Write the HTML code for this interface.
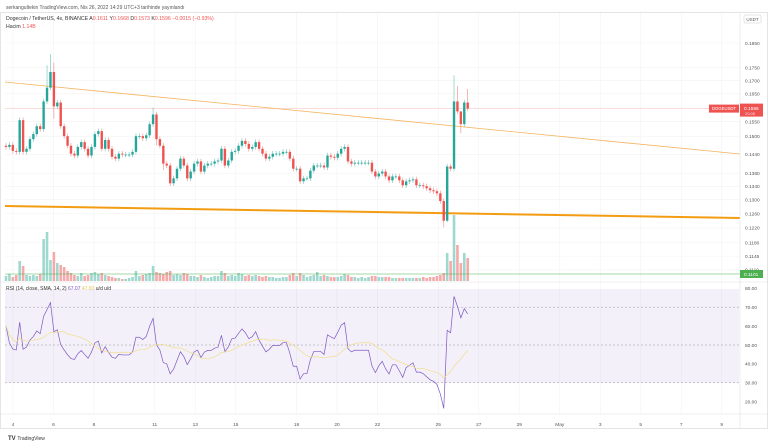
<!DOCTYPE html>
<html><head><meta charset="utf-8"><style>
html,body{margin:0;padding:0;background:#fff;width:768px;height:445px;overflow:hidden}
svg{display:block;font-family:"Liberation Sans",sans-serif}
</style></head><body>
<svg id="c" width="768" height="445" viewBox="0 0 768 445">
<text x="6" y="9" font-size="5" fill="#555">serkangultekin TradingView.com, Nis 26, 2022 14:29 UTC+3 tarihinde yayınlandı</text>
<rect x="0.5" y="12.5" width="767" height="416" fill="none" stroke="#e4e4e4"/>
<g id="grid"></g>
<rect x="5" y="289" width="734" height="94" fill="#7e57c2" fill-opacity="0.09"/>
<g id="main"></g>
<text x="6" y="20" font-size="5.2" fill="#333">Dogecoin / TetherUS, 4s, BINANCE  <tspan fill="#333">A</tspan><tspan fill="#ef5350">0.1611</tspan> Y<tspan fill="#ef5350">0.1668</tspan> D<tspan fill="#ef5350">0.1573</tspan> K<tspan fill="#ef5350">0.1596</tspan> <tspan fill="#ef5350">−0.0015 (−0.93%)</tspan></text>
<text x="6" y="28" font-size="5.2" fill="#333">Hacim <tspan fill="#ef5350">1.14B</tspan></text>
<text x="6" y="290" font-size="5" fill="#333">RSI (14, close, SMA, 14, 2) <tspan fill="#7e57c2">67.07</tspan> <tspan fill="#e8c75a">47.83</tspan> u/d u/d</text>
<rect x="744" y="15" width="17" height="8" rx="1" fill="#fff" stroke="#ccc" stroke-width="0.5"/>
<text x="752.5" y="21" font-size="4.5" fill="#555" text-anchor="middle">USDT</text>
<text x="8" y="440" font-size="6" fill="#333" font-weight="bold">TV <tspan font-weight="normal" font-size="5">TradingView</tspan></text>
</svg>
<script>
const closes=[0.1464,0.1471,0.1451,0.1448,0.1555,0.1448,0.1458,0.1490,0.1507,0.1534,0.1524,0.1622,0.1673,0.1733,0.1604,0.1618,0.1534,0.1500,0.1468,0.1442,0.1436,0.1464,0.1480,0.1458,0.1436,0.1464,0.1507,0.1517,0.1458,0.1487,0.1458,0.1432,0.1426,0.1442,0.1439,0.1439,0.1439,0.1448,0.1500,0.1500,0.1493,0.1503,0.1541,0.1575,0.1490,0.1468,0.1410,0.1404,0.1349,0.1364,0.1394,0.1426,0.1404,0.1364,0.1385,0.1410,0.1417,0.1385,0.1404,0.1410,0.1410,0.1417,0.1420,0.1458,0.1404,0.1420,0.1448,0.1451,0.1468,0.1484,0.1474,0.1458,0.1464,0.1480,0.1458,0.1442,0.1426,0.1432,0.1442,0.1442,0.1442,0.1448,0.1448,0.1426,0.1394,0.1394,0.1355,0.1364,0.1364,0.1388,0.1404,0.1404,0.1404,0.1398,0.1436,0.1432,0.1429,0.1442,0.1458,0.1464,0.1417,0.1410,0.1413,0.1413,0.1413,0.1413,0.1413,0.1385,0.1370,0.1379,0.1385,0.1370,0.1358,0.1370,0.1370,0.1358,0.1343,0.1355,0.1358,0.1361,0.1343,0.1343,0.1340,0.1334,0.1328,0.1325,0.1319,0.1296,0.1240,0.1401,0.1394,0.1622,0.1586,0.1541,0.1618,0.1596];
const volumes=[5,7,4,6,20,15,6,5,6,5,7,42,49,21,29,18,16,14,10,8,6,5,8,5,6,8,9,7,8,6,5,4,3,3,2,2,3,4,10,5,6,7,8,15,9,8,7,9,10,6,7,6,8,7,5,5,4,6,4,3,4,5,5,10,8,5,6,5,8,7,5,6,5,6,5,4,5,4,4,3,3,4,4,6,8,5,8,6,4,5,6,9,5,6,5,4,4,4,5,7,6,4,4,3,4,3,4,5,5,4,4,4,4,3,3,3,3,3,3,3,3,3,4,3,4,4,5,6,8,28,20,66,36,18,28,23];
const peakHighs={12:0.1760,13:0.1805,14:0.1770,43:0.1600,131:0.1720,132:0.1680,133:0.1575,135:0.1668};
const deepLows={128:0.1222,129:0.1236,14:0.1560,44:0.1470,46:0.1390,48:0.1340,133:0.1510};
const priceTicks=[0.1850,0.1750,0.1700,0.1650,0.1550,0.1500,0.1440,0.1380,0.1340,0.1300,0.1260,0.1220,0.1180,0.1145,0.1110];
const rsiTicks=[80,70,60,50,40,30,20];
const dayLabels=["4","6","8","11","13","15","18","20","22","25","27","29","May","3","5","7","9"];
const dayPos=[4,6,8,11,13,15,18,20,22,25,27,29,31,33,35,37,39];
const lastPrice=0.1596, supportLevel=0.1101;

const NS="http://www.w3.org/2000/svg";
function mk(parent,tag,attrs){const e=document.createElementNS(NS,tag);for(const k in attrs)e.setAttribute(k,attrs[k]);parent.appendChild(e);return e;}
const yP=p=>43+(Math.log(0.185)-Math.log(p))/0.511*227;
const xI=i=>6+i*3.42;
const xDay=d=>13+(d-4)*20.25;
const yR=v=>345-(v-50)*1.89;
const yV=v=>281-v;
const G=document.getElementById('grid'), M=document.getElementById('main'), S=document.getElementById('c');

priceTicks.forEach(t=>{
  const l=mk(G,'line',{x1:5,x2:740,y1:yP(t),y2:yP(t),stroke:'#f2f2f2','stroke-width':0.6});
  
  
  const tx=mk(S,'text',{x:745,y:yP(t)+1.8,'font-size':4.8,fill:'#555'});tx.textContent=t.toFixed(4);
  
  
});
dayPos.forEach((d,k)=>{
  const l=mk(G,'line',{x1:xDay(d),x2:xDay(d),y1:13,y2:414,stroke:'#f2f2f2','stroke-width':0.6});
  
  
  const tx=mk(S,'text',{x:xDay(d),y:426,'font-size':4.8,fill:'#555','text-anchor':'middle'});tx.textContent=dayLabels[k];
  
  
});
rsiTicks.forEach(t=>{
  const tx=mk(S,'text',{x:745,y:yR(t)+1.8,'font-size':4.8,fill:'#555'});tx.textContent=t.toFixed(2);
  
  
});
[70,50,30].forEach(t=>{
  const l=mk(M,'line',{x1:5,x2:740,y1:yR(t),y2:yR(t),stroke:'#9a9a9a','stroke-width':0.5,'stroke-dasharray':'2,2'});
  
  
});
// axes separators
[[740,13,740,428],[0,282,768,282],[0,414,768,414]].forEach(a=>{
  const l=mk(S,'line',{x1:a[0],y1:a[1],x2:a[2],y2:a[3],stroke:'#e0e0e0','stroke-width':0.6});
  
  
});
// volume bars
volumes.forEach((v,i)=>{
  const o=i?closes[i-1]:closes[0];const up=closes[i]>=o;
  const r=mk(M,'rect',{x:xI(i)-1.3,y:yV(v),width:2.6,height:v,fill:up?'#9fd8cf':'#f5a9a9'});
  
  
});
// level line
const sl=mk(M,'line',{x1:5,x2:740,y1:274,y2:274,stroke:'#4caf50','stroke-width':0.6});


const lp=mk(M,'line',{x1:5,x2:740,y1:yP(lastPrice),y2:yP(lastPrice),stroke:'#f7c6c6','stroke-width':0.6});


// trend lines
const t1=mk(M,'line',{x1:5,y1:82,x2:740,y2:154,stroke:'#f5b461','stroke-width':0.8});


const t2=mk(M,'line',{x1:5,y1:206,x2:740,y2:218,stroke:'#f39c12','stroke-width':2});


// candles
closes.forEach((c,i)=>{
  const o=i?closes[i-1]:0.1468;const up=c>=o;const col=up?'#26a69a':'#ef5350';
  const hi=peakHighs[i]||Math.max(o,c)*1.006, lo=deepLows[i]||Math.min(o,c)*0.994;
  const g=mk(M,'g',{});
  
  
  mk(g,'line',{x1:xI(i),x2:xI(i),y1:yP(hi),y2:yP(lo),stroke:col,'stroke-width':0.6,'stroke-opacity':0.7});
  const y1=yP(Math.max(o,c)),y2=yP(Math.min(o,c));
  mk(g,'rect',{x:xI(i)-1.2,y:y1,width:2.4,height:Math.max(0.8,y2-y1),fill:col});
});
// RSI
const rsi=[];let ag=0.0012,al=0.0012;
closes.forEach((c,i)=>{if(i===0){rsi.push(60);return;}const d=c-closes[i-1];ag=(ag*13+Math.max(d,0))/14;al=(al*13+Math.max(-d,0))/14;rsi.push(100-100/(1+ag/al));});
const sma=rsi.map((v,i)=>{const s=rsi.slice(Math.max(0,i-13),i+1);return s.reduce((a,b)=>a+b,0)/s.length;});
const rl=mk(M,'polyline',{points:rsi.map((v,i)=>xI(i)+','+yR(v)).join(' '),fill:'none',stroke:'#7e57c2','stroke-width':0.7});


const ml=mk(M,'polyline',{points:sma.map((v,i)=>xI(i)+','+yR(v)).join(' '),fill:'none',stroke:'#f3dd8a','stroke-width':0.7});


// labels
const yl=yP(lastPrice);
const b1=mk(S,'rect',{x:709,y:yl-4,width:30,height:8,fill:'#ef5350'});


const b1t=mk(S,'text',{x:724,y:yl+1.6,'font-size':4.3,fill:'#fff','text-anchor':'middle'});b1t.textContent='DOGEUSDT';


const b2=mk(S,'rect',{x:740,y:yl-5,width:23,height:13,fill:'#ef5350'});


const b2t=mk(S,'text',{x:744,y:yl+1.2,'font-size':4.8,fill:'#fff'});b2t.textContent=lastPrice.toFixed(4);


const b3t=mk(S,'text',{x:745,y:yl+6.3,'font-size':4,fill:'#fde'});b3t.textContent='20:05';


const g1=mk(S,'rect',{x:740,y:270,width:23,height:8,fill:'#4caf50'});


const g1t=mk(S,'text',{x:744,y:276,'font-size':4.8,fill:'#fff'});g1t.textContent=supportLevel.toFixed(4);


</script>
</body></html>
